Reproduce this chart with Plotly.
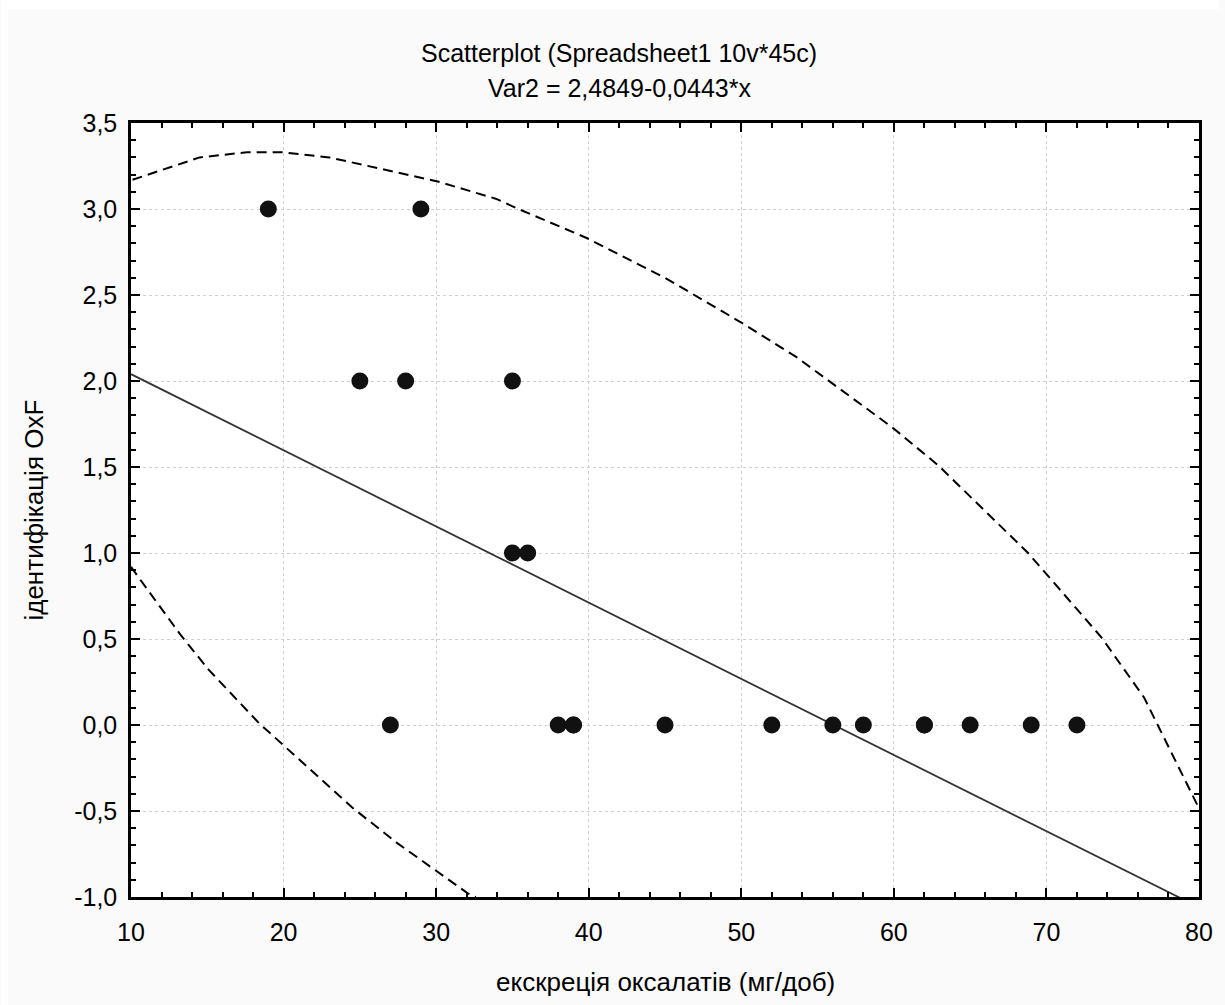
import plotly.graph_objects as go

# Data points (excretion of oxalates vs OxF identification)
pts_x = [19, 29, 25, 28, 35, 35, 36, 27, 38, 39, 39, 45, 52, 56, 58, 62, 62, 65, 69, 72]
pts_y = [3, 3, 2, 2, 2, 1, 1, 0, 0, 0, 0, 0, 0, 0, 0, 0, 0, 0, 0, 0]

# Regression line endpoints (Var2 = 2,4849-0,0443*x)
line_x = [10, 80]
line_y = [2.04, -1.06]

# Confidence ellipse
upper_x = [10.1, 14.5, 17.6, 19.9, 23.0, 26.0, 30.1, 33.9, 35.4, 39.9, 45.0, 50.0, 53.6, 59.9, 62.9, 68.8, 73.6, 76.4, 80.2]
upper_y = [3.17, 3.30, 3.33, 3.33, 3.30, 3.24, 3.16, 3.06, 3.00, 2.83, 2.60, 2.34, 2.14, 1.73, 1.51, 1.00, 0.51, 0.16, -0.52]
lower_x = [10.0, 10.4, 13.2, 15.1, 18.4, 21.0, 24.5, 27.5, 29.9, 32.1, 32.6]
lower_y = [0.92, 0.87, 0.53, 0.32, 0.01, -0.20, -0.48, -0.69, -0.84, -0.98, -1.0]

x_ticks = [10, 20, 30, 40, 50, 60, 70, 80]
y_ticks = [-1.0, -0.5, 0.0, 0.5, 1.0, 1.5, 2.0, 2.5, 3.0, 3.5]
y_ticktext = ["-1,0", "-0,5", "0,0", "0,5", "1,0", "1,5", "2,0", "2,5", "3,0", "3,5"]

FONT = "Liberation Sans, Arial, sans-serif"
FS = 25
FS_AX = 26

fig = go.Figure()
fig.add_trace(go.Scatter(x=upper_x, y=upper_y, mode="lines",
                         line=dict(color="black", width=2, dash="10px,6px"), showlegend=False))
fig.add_trace(go.Scatter(x=lower_x, y=lower_y, mode="lines",
                         line=dict(color="black", width=2, dash="10px,6px"), showlegend=False))
fig.add_trace(go.Scatter(x=line_x, y=line_y, mode="lines",
                         line=dict(color="#333333", width=1.8), showlegend=False))
fig.add_trace(go.Scatter(x=pts_x, y=pts_y, mode="markers",
                         marker=dict(color="#111111", size=17, line=dict(width=0)), showlegend=False,
                         cliponaxis=True))

# outer white strips
fig.add_shape(type="rect", xref="paper", yref="paper", x0=-131/1074, x1=(7-131)/1074,
              y0=-108/774, y1=897/774, fillcolor="white", line=dict(width=0), layer="below")
fig.add_shape(type="rect", xref="paper", yref="paper", x0=-131/1074, x1=1094/1074,
              y0=(897-9)/774, y1=897/774, fillcolor="white", line=dict(width=0), layer="below")

axis_common = dict(
    showline=True, linecolor="black", linewidth=2.5, mirror="ticks",
    ticks="inside", ticklen=9, tickwidth=2, tickcolor="black",
    showgrid=True, gridcolor="#cfcfcf", gridwidth=1, griddash="dot",
    zeroline=False, tickfont=dict(family=FONT, size=FS, color="black"),
)

fig.update_xaxes(range=[10, 80], tickvals=x_ticks, ticktext=[str(v) for v in x_ticks],
                 minor=dict(dtick=2, tick0=10, ticks="inside", ticklen=5, tickcolor="black", tickwidth=2, showgrid=False),
                 ticklabelstandoff=11,
                 **axis_common)
fig.update_yaxes(range=[-1.0, 3.5], tickvals=y_ticks, ticktext=y_ticktext,
                 minor=dict(dtick=0.1, tick0=0, ticks="inside", ticklen=5, tickcolor="black", tickwidth=2, showgrid=False),
                 ticklabelstandoff=6,
                 **axis_common)

def px_x(p):
    return (p - 131) / 1074

def px_y(p):
    return (897 - p) / 774

fig.add_annotation(text="Scatterplot (Spreadsheet1 10v*45c)", xref="paper", yref="paper",
                   x=px_x(622), y=px_y(53), showarrow=False, yanchor="middle", xanchor="center",
                   font=dict(family=FONT, size=FS, color="black"))
fig.add_annotation(text="Var2 = 2,4849-0,0443*x", xref="paper", yref="paper",
                   x=px_x(622), y=px_y(88), showarrow=False, yanchor="middle", xanchor="center",
                   font=dict(family=FONT, size=FS, color="black"))
fig.add_annotation(text="екскреція оксалатів (мг/доб)", xref="paper", yref="paper",
                   x=0.5, y=px_y(982), showarrow=False, yanchor="middle", xanchor="center",
                   font=dict(family=FONT, size=FS_AX, color="black"))
fig.add_annotation(text="ідентифікація OxF", xref="paper", yref="paper",
                   x=px_x(33), y=0.5, showarrow=False, yanchor="middle", xanchor="center",
                   textangle=-90, font=dict(family=FONT, size=FS_AX, color="black"))

fig.update_layout(
    width=1225, height=1005,
    margin=dict(l=131, r=20, t=123, b=108),
    paper_bgcolor="#fafafa", plot_bgcolor="white",
    font=dict(family=FONT, color="black"),
    showlegend=False,
)

fig.write_html("out.html")
